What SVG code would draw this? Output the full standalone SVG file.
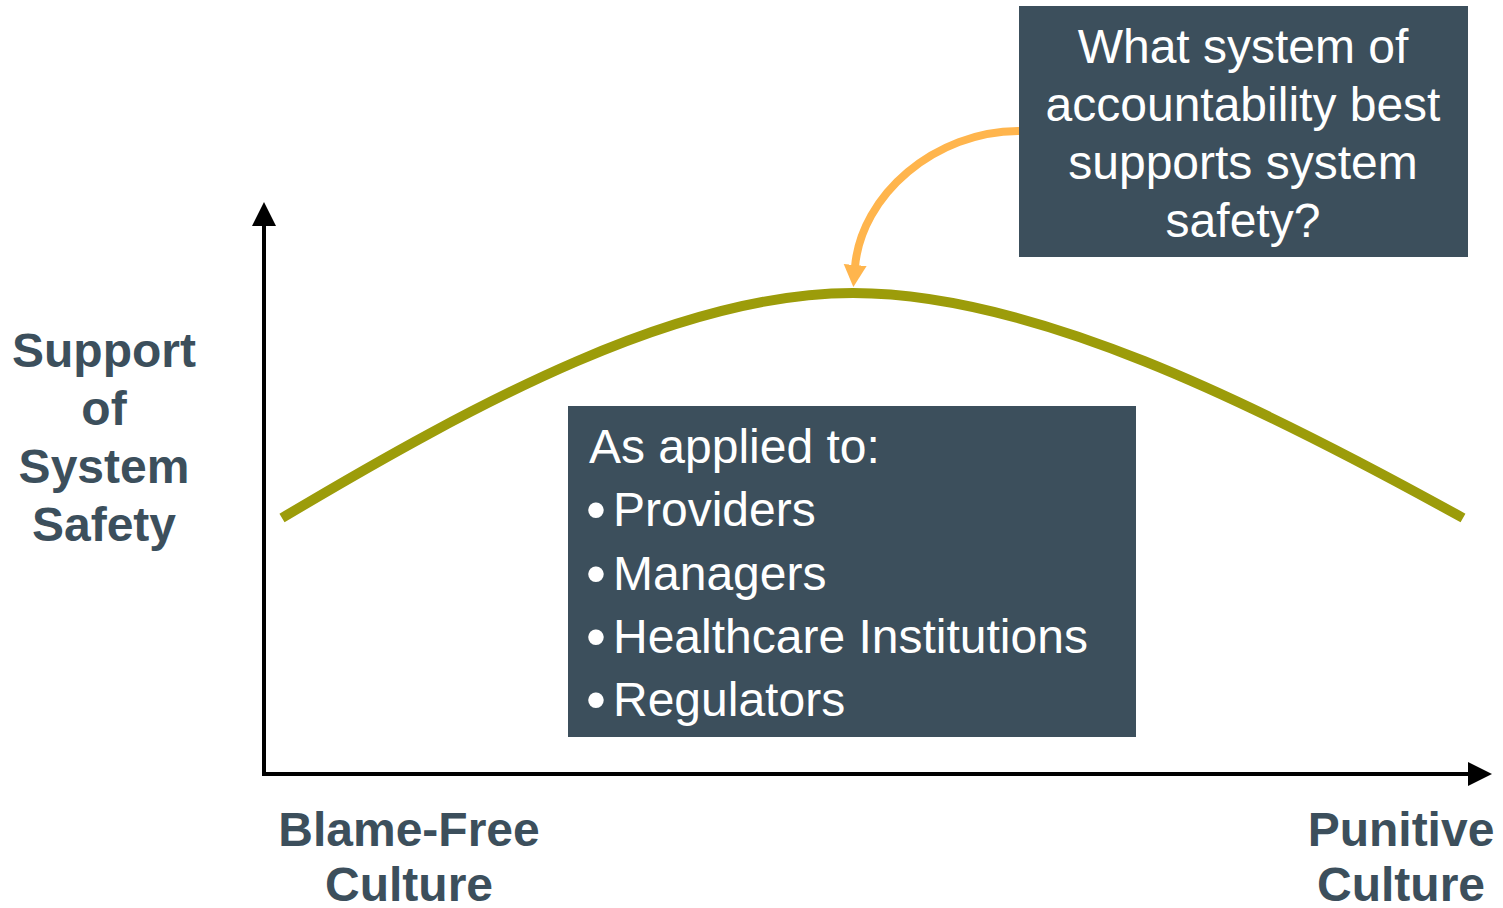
<svg xmlns="http://www.w3.org/2000/svg" width="1503" height="908" viewBox="0 0 1503 908">
<style>
.box{fill:#3C4F5C}
.wt{fill:#FFFFFF;font-family:"Liberation Sans",Arial,sans-serif;font-size:48px}
.bul{font-size:57px}
.lbl{fill:#3C4F5C;font-family:"Liberation Sans",Arial,sans-serif;font-size:48px;font-weight:bold;text-anchor:middle}
</style>
<defs>
<marker id="ah" markerWidth="6" markerHeight="6" refX="5" refY="3" orient="auto" markerUnits="strokeWidth"><path d="M0,0 L6,3 L0,6 z" fill="#000"/></marker>
<marker id="oh" markerWidth="24" markerHeight="24" refX="2" refY="11.5" orient="auto" markerUnits="userSpaceOnUse"><path d="M0,0 L22,11.5 L0,23 z" fill="#FFB54D"/></marker>
</defs>
<rect width="1503" height="908" fill="#FFFFFF"/>
<g id="axes">
<line x1="264" y1="776" x2="264" y2="206" stroke="#000" stroke-width="4" marker-end="url(#ah)"/>
<line x1="262" y1="774" x2="1488" y2="774" stroke="#000" stroke-width="4" marker-end="url(#ah)"/>
</g>
<g id="curve">
<path d="M282,518 C480,400 680,293 853,293 C1030,293 1250,400 1463,518" fill="none" stroke="#9C9C0A" stroke-width="10"/>
</g>
<g id="connectors">
<path d="M1019,131 C935,131 861,195 855,267" fill="none" stroke="#FFB54D" stroke-width="8" marker-end="url(#oh)"/>
</g>
<g id="question">
<rect class="box" x="1019" y="6" width="449" height="251"/>
<text class="wt" text-anchor="middle"><tspan x="1243" y="63">What system of</tspan><tspan x="1243" y="121">accountability best</tspan><tspan x="1243" y="179">supports system</tspan><tspan x="1243" y="237">safety?</tspan></text>
</g>
<g id="applied">
<rect class="box" x="568" y="406" width="568" height="331"/>
<text class="wt" x="589" y="463">As applied to:</text>
<text class="wt" x="586" y="526"><tspan class="bul" dy="3">•</tspan><tspan x="613" dy="-3">Providers</tspan></text>
<text class="wt" x="586" y="590"><tspan class="bul" dy="3">•</tspan><tspan x="613" dy="-3">Managers</tspan></text>
<text class="wt" x="586" y="653"><tspan class="bul" dy="3">•</tspan><tspan x="613" dy="-3">Healthcare Institutions</tspan></text>
<text class="wt" x="586" y="716"><tspan class="bul" dy="3">•</tspan><tspan x="613" dy="-3">Regulators</tspan></text>
</g>
<g id="ylabel">
<text class="lbl"><tspan x="104" y="367">Support</tspan><tspan x="104" y="425">of</tspan><tspan x="104" y="483">System</tspan><tspan x="104" y="541">Safety</tspan></text>
</g>
<g id="xlabel-left">
<text class="lbl"><tspan x="409" y="846">Blame-Free</tspan><tspan x="409" y="901">Culture</tspan></text>
</g>
<g id="xlabel-right">
<text class="lbl"><tspan x="1401" y="846">Punitive</tspan><tspan x="1401" y="901">Culture</tspan></text>
</g>
</svg>
